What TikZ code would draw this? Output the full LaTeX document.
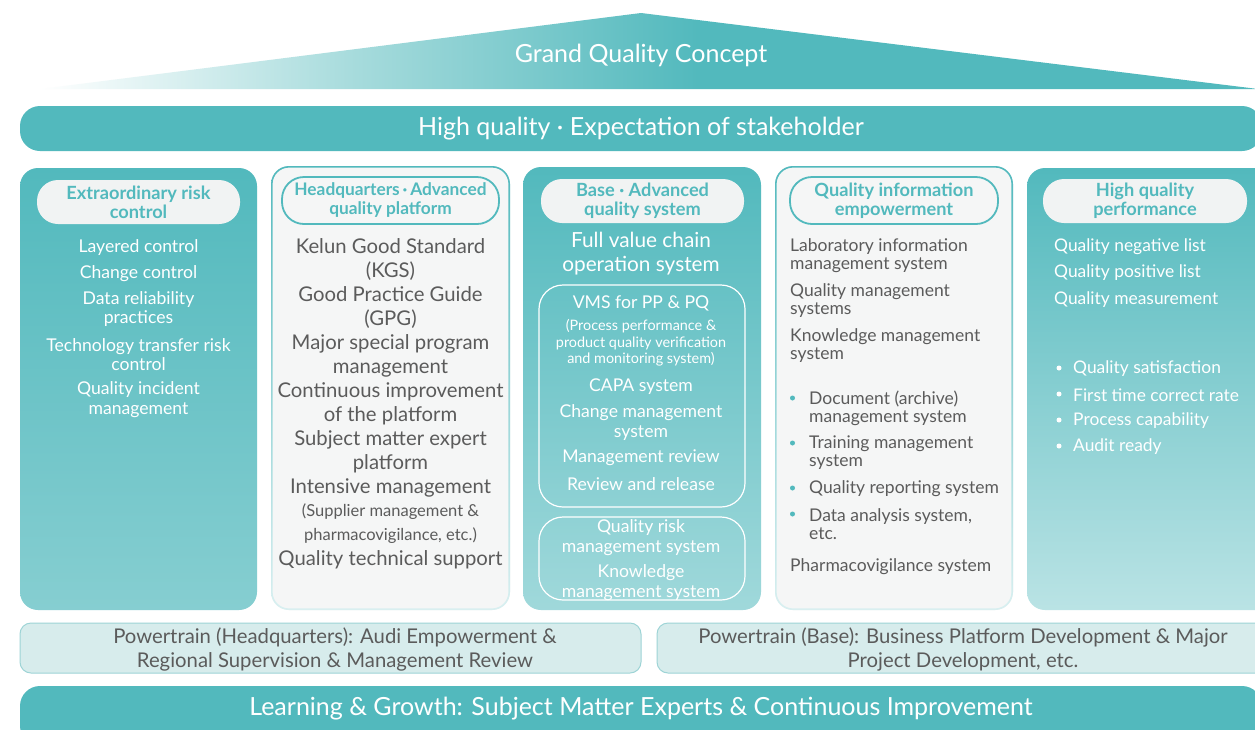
\documentclass[tikz,border=0pt]{standalone}
\usepackage{fontspec}
\setmainfont{Lato}
\definecolor{tealc}{HTML}{52B9BD}
\definecolor{teallt}{HTML}{A6DBDC}
\definecolor{pillc}{HTML}{F1F3F3}
\definecolor{lightbg}{HTML}{F5F6F6}
\definecolor{darktx}{HTML}{5B5B5B}
\definecolor{boxfill}{HTML}{D7ECEC}
\definecolor{boxline}{HTML}{9ED4D6}
\pgfdeclarehorizontalshading{trishade}{100bp}{color(0bp)=(white); color(25bp)=(white); color(38bp)=(teallt); color(52bp)=(tealc); color(100bp)=(tealc)}
\newcommand\fzA{\fontsize{17.6}{19.5}\selectfont}
\newcommand\fzB{\fontsize{20.3}{24}\selectfont}
\newcommand\fzH{\fontsize{18.2}{19}\selectfont\bfseries}
\newcommand\fzS{\fontsize{14.4}{16.5}\selectfont}
\newcommand\fzL{\fontsize{17.5}{18}\selectfont}
\newcommand\fzR{\fontsize{17.4}{20}\selectfont}
\newcommand\fzT{\fontsize{25}{28}\selectfont}
\tikzset{
  tealcol/.style={rectangle, rounded corners=18pt, inner sep=0pt, top color=tealc, draw=none},
  lightcol/.style={rectangle, rounded corners=18pt, inner sep=0pt, fill=lightbg, draw=none},
  ring/.style={top color=tealc, bottom color=tealc!22!white, even odd rule},
  pillfill/.style={rectangle, rounded corners=21pt, inner sep=0pt, fill=pillc, text=tealc, font=\fzH, align=center},
  pillline/.style={rectangle, rounded corners=22pt, inner sep=0pt, draw=tealc, line width=1.8pt, text=tealc, font=\fzH, align=center},
  wtx/.style={text=white, align=center, inner sep=0pt},
  dtx/.style={text=darktx, align=center, inner sep=0pt},
  wl/.style={text=white, align=left, anchor=west, inner sep=0pt, font=\fzR},
  dl/.style={text=darktx, align=left, anchor=west, inner sep=0pt, font=\fzL},
  bigw/.style={text=white, font=\fzT, inner sep=0pt},
  bottombox/.style={rectangle, rounded corners=11pt, fill=boxfill, draw=boxline, line width=1pt, inner sep=0pt},
  bar/.style={rectangle, rounded corners=20pt, fill=tealc, inner sep=0pt},
  tdot/.style={circle, fill=tealc, inner sep=0pt, minimum size=5pt},
  wdot/.style={circle, fill=white, inner sep=0pt, minimum size=5pt}
}
\begin{document}
\begin{tikzpicture}[x=1pt,y=-1pt]
\useasboundingbox (0,0) rectangle (1255,729);
\fill[white] (0,0) rectangle (1255,729);
\clip (0,0) rectangle (1255,729);
% roof
\shade[shading=trishade] (40,89) -- (641,13) -- (1258,89) -- cycle;
\node[bigw] (gq) at (641,55) {Grand Quality Concept};
% top bar
\node[bar, minimum width=1242pt, minimum height=45pt] (hqbar) at (641,128.5) {};
\node[bigw] (hq) at (641,129) {High quality · Expectation of stakeholder};

% column 1
\node[tealcol, bottom color=tealc!70!white, minimum width=237pt, minimum height=442pt] (c1) at (138.5,389) {};
\node[pillfill, minimum width=203pt, minimum height=44pt] (h1) at (138.5,202) {Extraordinary risk\\control};
\node[wtx, font=\fzA] (c1a) at (138.5,248) {Layered control};
\node[wtx, font=\fzA] (c1b) at (138.5,274) {Change control};
\node[wtx, font=\fzA] (c1c) at (138.5,309) {Data reliability\\practices};
\node[wtx, font=\fzA] (c1d) at (138.5,354.5) {Technology transfer risk\\control};
\node[wtx, font=\fzA] (c1e) at (138.5,399.5) {Quality incident\\management};

% column 2
\node[lightcol, minimum width=239pt, minimum height=444pt] (c2) at (390.5,388) {};
\shade[ring] [rounded corners=18pt] (271,166) rectangle (510,610) {[rounded corners=16.4pt] (272.6,167.6) rectangle (508.4,608.4)};
\node[pillline, minimum width=217pt, minimum height=47pt, font=\fontsize{17.3}{19}\selectfont\bfseries] (h2) at (390.5,200.5) {Headquarters\,·\,Advanced\\quality platform};
\node[dtx, font=\fzB] (c2a) at (390.5,260) {Kelun Good Standard\\(KGS)};
\node[dtx, font=\fzB] (c2b) at (390.5,308) {Good Practice Guide\\(GPG)};
\node[dtx, font=\fzB] (c2c) at (390.5,356) {Major special program\\management};
\node[dtx, font=\fzB] (c2d) at (390.5,404) {Continuous improvement\\of the platform};
\node[dtx, font=\fzB] (c2e) at (390.5,452) {Subject matter expert\\platform};
\node[dtx, font=\fzB] (c2f) at (390.5,488) {Intensive management};
\node[dtx, font=\fontsize{16.5}{24}\selectfont] (c2g) at (390.5,524) {(Supplier management \&\\pharmacovigilance, etc.)};
\node[dtx, font=\fzB] (c2h) at (390.5,560) {Quality technical support};

% column 3
\node[tealcol, bottom color=tealc!55!white, minimum width=238pt, minimum height=443pt] (c3) at (642,388.5) {};
\node[pillfill, minimum width=203pt, minimum height=44pt] (h3) at (642.5,201) {Base · Advanced\\quality system};
\node[wtx, font=\fontsize{20.8}{24}\selectfont] (c3a) at (641,254) {Full value chain\\operation system};
\node[rectangle, rounded corners=24pt, draw=white, line width=1.2pt, minimum width=206pt, minimum height=222pt] (vms) at (642,396) {};
\node[wtx, font=\fzA] (c3b) at (641,303) {VMS for PP \& PQ};
\node[wtx, font=\fzS] (c3c) at (641,343) {(Process performance \&\\product quality verification\\and monitoring system)};
\node[wtx, font=\fzA] (c3d) at (641,387) {CAPA system};
\node[wtx, font=\fzA] (c3e) at (641,422.5) {Change management\\system};
\node[wtx, font=\fzA] (c3f) at (641,458) {Management review};
\node[wtx, font=\fzA] (c3g) at (641,484) {Review and release};
\node[rectangle, rounded corners=24pt, draw=white, line width=1.2pt, minimum width=206pt, minimum height=83pt] (qrm) at (642,558.5) {};
\node[wtx, font=\fzA] (c3h) at (641,537.5) {Quality risk\\management system};
\node[wtx, font=\fzA] (c3i) at (641,582.5) {Knowledge\\management system};

% column 4
\node[lightcol, minimum width=238pt, minimum height=444pt] (c4) at (894,388) {};
\shade[ring] [rounded corners=18pt] (775,166) rectangle (1013,610) {[rounded corners=16.4pt] (776.6,167.6) rectangle (1011.4,608.4)};
\node[pillline, minimum width=208pt, minimum height=47pt] (h4) at (894,200.5) {Quality information\\empowerment};
\node[dl] (c4a) at (790,256) {Laboratory information\\management system};
\node[dl] (c4b) at (790,301) {Quality management\\systems};
\node[dl] (c4c) at (790,346) {Knowledge management\\system};
\node[tdot] (d4a) at (792.5,398) {};
\node[dl] (c4d) at (809,408) {Document (archive)\\management system};
\node[tdot] (d4b) at (792.5,443) {};
\node[dl] (c4e) at (809,453) {Training management\\system};
\node[tdot] (d4c) at (792.5,488) {};
\node[dl] (c4f) at (809,489) {Quality reporting system};
\node[tdot] (d4d) at (792.5,514) {};
\node[dl] (c4g) at (809,524) {Data analysis system,\\etc.};
\node[dl] (c4h) at (790,567) {Pharmacovigilance system};

% column 5
\node[tealcol, bottom color=tealc!40!white, minimum width=260pt, minimum height=442pt] (c5) at (1157,389) {};
\node[pillfill, minimum width=204pt, minimum height=44pt] (h5) at (1145,201) {High quality\\performance};
\node[wl] (c5a) at (1054,247) {Quality negative list};
\node[wl] (c5b) at (1054,273) {Quality positive list};
\node[wl] (c5c) at (1054,300) {Quality measurement};
\node[wdot] (d5a) at (1059,368) {};
\node[wl] (c5d) at (1073,369) {Quality satisfaction};
\node[wdot] (d5b) at (1059,394) {};
\node[wl] (c5e) at (1073,395) {First time correct rate};
\node[wdot] (d5c) at (1059,420) {};
\node[wl] (c5f) at (1073,421) {Process capability};
\node[wdot] (d5d) at (1059,446) {};
\node[wl] (c5g) at (1073,447) {Audit ready};

% bottom boxes
\node[bottombox, minimum width=621pt, minimum height=50pt] (pa) at (330.5,648) {};
\node[dtx, font=\fontsize{20.3}{24}\selectfont] (pat) at (335,649.5) {Powertrain (Headquarters): Audi Empowerment \&\\Regional Supervision \& Management Review};
\node[bottombox, minimum width=620pt, minimum height=50pt] (pb) at (967,648) {};
\node[dtx, font=\fontsize{20.3}{24}\selectfont] (pbt) at (963,649.5) {Powertrain (Base): Business Platform Development \& Major\\Project Development, etc.};

% bottom bar
\node[bar, minimum width=1242pt, minimum height=60pt] (lgbar) at (641,716) {};
\node[bigw] (lg) at (641,709) {Learning \& Growth: Subject Matter Experts \& Continuous Improvement};
\end{tikzpicture}
\end{document}
